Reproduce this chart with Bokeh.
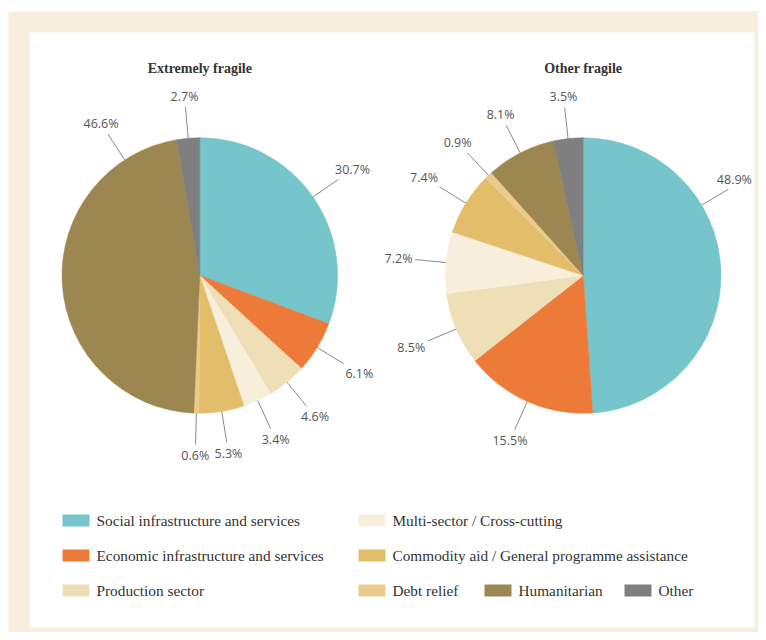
import math
from bokeh.plotting import figure
from bokeh.models import Range1d, ColumnDataSource
from bokeh.core.properties import value
from bokeh.embed import file_html
from bokeh.resources import INLINE

# ---------------- data ----------------
categories = [
    "Social infrastructure and services",
    "Economic infrastructure and services",
    "Production sector",
    "Multi-sector / Cross-cutting",
    "Commodity aid / General programme assistance",
    "Debt relief",
    "Humanitarian",
    "Other",
]
extremely_fragile = [30.7, 6.1, 4.6, 3.4, 5.3, 0.6, 46.6, 2.7]
other_fragile = [48.9, 15.5, 8.5, 7.2, 7.4, 0.9, 8.1, 3.5]
pie_titles = ["Extremely fragile", "Other fragile"]

# ---------------- style / layout ----------------
colors = ["#75c5cb", "#ee7a3a", "#eedfb6", "#f7efdc", "#e2be6a", "#e9cc8c", "#9d8750", "#7f7f7f"]
BEIGE = "#f7eedc"
W, H = 758, 632
TOP = 640

def Y(y):  # image pixel row -> data y
    return TOP - y

pie_centers = [(199.3, 275.0), (582.7, 275.0)]
R = 137.8
LEAD = 31
# label anchor angle overrides (degrees clockwise from top) for large slices
label_angle_override = [{6: 327.0}, {0: 59.3}]
# small pixel nudges (dx, dy in screen px) for individual labels
label_nudge = [{}, {0: (-10, 0)}]
title_pos = [(199.3, 68), (582.7, 68)]
legend_pos = [(62, 520), (62, 555), (62, 590), (358, 520), (358, 555), (358, 590), (484, 590), (624, 590)]
SW_W, SW_H = 27, 12

p = figure(width=W, height=H, x_range=Range1d(0, W), y_range=Range1d(TOP - H, TOP),
           output_backend="svg", toolbar_location=None, min_border=0,
           x_axis_location=None, y_axis_location=None)
p.grid.visible = False
p.outline_line_color = None
p.background_fill_color = "white"
p.border_fill_color = "white"

# beige frame and white panel
p.quad(left=[8], right=[W + 10], bottom=[Y(638)], top=[Y(11)], fill_color=BEIGE, line_color=None)
p.quad(left=[29], right=[754], bottom=[Y(627)], top=[Y(32)], fill_color="white", line_color=None)

for k, series in enumerate([extremely_fragile, other_fragile]):
    cx, cyi = pie_centers[k]
    cy = Y(cyi)
    total = sum(series)
    starts, ends, mids = [], [], []
    cum = 0.0
    for v in series:
        a0 = cum / total
        cum += v
        a1 = cum / total
        starts.append(math.pi / 2 - 2 * math.pi * a1)
        ends.append(math.pi / 2 - 2 * math.pi * a0)
        mids.append((a0 + a1) / 2 * 360.0)
    src = ColumnDataSource(dict(x=[cx] * len(series), y=[cy] * len(series),
                                start=starts, end=ends, color=colors[:len(series)]))
    p.wedge(x="x", y="y", radius=R, start_angle="start", end_angle="end",
            fill_color="color", line_color="color", line_width=0.5, source=src)

    x0s, y0s, x1s, y1s, tx, ty, tt = [], [], [], [], [], [], []
    for i, v in enumerate(series):
        ang = label_angle_override[k].get(i, mids[i])
        a = math.radians(ang)
        sx, sy = math.sin(a), math.cos(a)
        x0s.append(cx + R * sx); y0s.append(cy + R * sy)
        ex, ey = cx + (R + LEAD) * sx, cy + (R + LEAD) * sy
        x1s.append(ex); y1s.append(ey)
        label = f"{v}%"
        hw, hh = 3.4 * len(label), 8.0
        cand = []
        if abs(sx) > 1e-6:
            cand.append(hw / abs(sx))
        if abs(sy) > 1e-6:
            cand.append(hh / abs(sy))
        d = min(cand) + 3
        ndx, ndy = label_nudge[k].get(i, (0, 0))
        tx.append(ex + sx * d + ndx); ty.append(ey + sy * d - ndy); tt.append(label)
    p.segment(x0=x0s, y0=y0s, x1=x1s, y1=y1s, line_color="#8a8a8a", line_width=1)
    p.text(x=tx, y=ty, text=tt, text_align="center", text_baseline="middle",
           text_font=value("Open Sans"), text_font_size="12.5px", text_color="#555555")

    # title
    p.text(x=[title_pos[k][0]], y=[Y(title_pos[k][1])], text=[pie_titles[k]],
           text_align="center", text_baseline="middle", text_font=value("Liberation Serif"),
           text_font_size="14px", text_font_style="bold", text_color="#333333")

# legend
lx = [q[0] for q in legend_pos]
ly = [Y(q[1]) for q in legend_pos]
p.quad(left=lx, right=[x + SW_W for x in lx], bottom=[y - SW_H / 2 for y in ly],
       top=[y + SW_H / 2 for y in ly], fill_color=colors, line_color=None)
p.text(x=[x + SW_W + 7 for x in lx], y=ly, text=categories, text_align="left", text_baseline="middle",
       text_font=value("Liberation Serif"), text_font_size="15.3px", text_color="#333333")

open("out.html", "w").write(file_html(p, INLINE))
